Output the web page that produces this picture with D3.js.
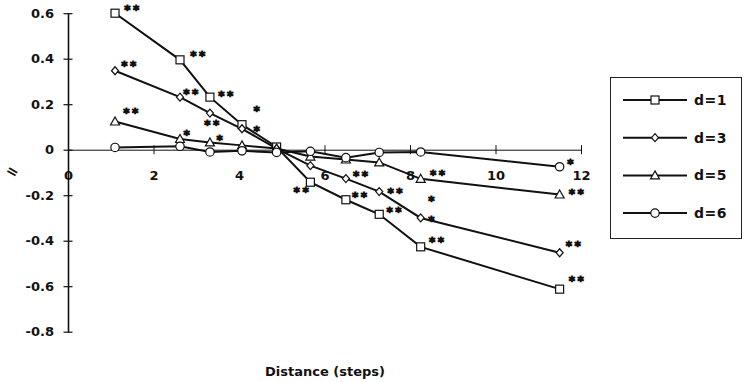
<!DOCTYPE html>
<html>
<head>
<meta charset="utf-8">
<script src="https://d3js.org/d3.v7.min.js"></script>
<style>
  body { margin: 0; background: #fff; }
  svg text { font-family: "DejaVu Sans", Arial, sans-serif; font-weight: bold; fill: #111; }
</style>
</head>
<body>
<div id="chart"></div>
<script>
// values
var distance = [1.1, 2.62, 3.32, 4.07, 4.88, 5.67, 6.5, 7.28, 8.25, 11.5]
var valuesD1 = [0.60, 0.395, 0.231, 0.11, 0.012, -0.143, -0.22, -0.284, -0.427, -0.613]
var valuesD3 = [0.347, 0.231, 0.161, 0.092, 0.005, -0.07, -0.127, -0.184, -0.30, -0.453]
var valuesD5 = [0.124, 0.047, 0.032, 0.019, 0.005, -0.03, -0.043, -0.056, -0.128, -0.197]
var valuesD6 = [0.01, 0.015, -0.01, -0.005, -0.012, -0.007, -0.035, -0.012, -0.01, -0.075]

// significance marks per point
var sigD1 = ["**", "**", "**", "*", "", "**", "**", "**", "**", "**"]
var sigD3 = ["**", "**", "**", "*", "", "", "**", "**", "*", "**"]
var sigD5 = ["**", "*", "*", "", "", "", "", "", "**", "**"]
var sigD6 = ["", "", "", "", "", "", "", "", "", "*"]

var seriesNames = ["d=1", "d=3", "d=5", "d=6"]
var xTicks = [0, 2, 4, 6, 8, 10, 12]
var yTicks = [0.6, 0.4, 0.2, 0, -0.2, -0.4, -0.6, -0.8]
var xTitle = "Distance (steps)"
var yTitle = "="

// layout: where each star sits relative to its point (pixels)
var starOffsets = {
    "d=1": [[18, -6], [19, -7], [17, -4], [16, -17], [0, 0], [-8, 7], [15, -6], [16, -5], [17, -8], [18, -11]],
    "d=3": [[15, -8], [12, -6], [3, 9], [16, -1], [0, 0], [0, 0], [16, -6], [17, -2], [12, 0], [15, -10]],
    "d=5": [[17, -11], [8, -7], [11, -5], [0, 0], [0, 0], [0, 0], [0, 0], [0, 0], [18, -7], [18, -4]],
    "d=6": [[0, 0], [0, 0], [0, 0], [0, 0], [0, 0], [0, 0], [0, 0], [0, 0], [0, 0], [12, -6]]
}
// the lone extra "*" above the d=3 point at 8.25
var extraStar = { series: "d=3", index: 8, text: "*", dx: 12, dy: -20 }

var width = 752, height = 382

var svg = d3.select("#chart").append("svg")
    .attr("width", width)
    .attr("height", height)

var x = d3.scaleLinear().domain([0, 12]).range([68, 581])
var y = d3.scaleLinear().domain([-0.8, 0.6]).range([331.7, 13.2])

// build series
var seriesValues = [valuesD1, valuesD3, valuesD5, valuesD6]
var seriesSig = [sigD1, sigD3, sigD5, sigD6]
var shapes = ["square", "diamond", "triangle", "circle"]
var series = seriesNames.map(function (name, i) {
    return {
        name: name,
        shape: shapes[i],
        points: distance.map(function (dv, j) {
            return { x: dv, y: seriesValues[i][j], sig: seriesSig[i][j], off: starOffsets[name][j] }
        })
    }
})

// axes (plain hyphen for minus, like the original)
var yAxis = d3.axisLeft(y).tickValues(yTicks).tickSizeInner(5).tickSizeOuter(0)
    .tickFormat(function (d) { return d === 0 ? "0" : d.toFixed(1) })
var gy = svg.append("g").attr("transform", "translate(" + x(0) + ",0)").call(yAxis)
gy.select(".domain").attr("stroke", "#111").attr("stroke-width", 1.6)
gy.selectAll(".tick line").attr("x1", -4.5).attr("x2", 4.5).attr("stroke", "#111").attr("stroke-width", 1.2)
gy.selectAll(".tick text").attr("x", -14).attr("font-size", 13).attr("font-family", null)

var xAxis = d3.axisBottom(x).tickValues(xTicks).tickSizeOuter(0).tickFormat(d3.format("d"))
var gx = svg.append("g").attr("transform", "translate(0," + y(0) + ")").call(xAxis)
gx.select(".domain").attr("stroke", "#111").attr("stroke-width", 1)
gx.selectAll(".tick line").attr("y1", -4.5).attr("y2", 4.5).attr("stroke", "#111").attr("stroke-width", 1)
gx.selectAll(".tick text").attr("y", 21).attr("font-size", 13).attr("font-family", null)

// axis titles
svg.append("text")
    .attr("x", 325)
    .attr("y", 376)
    .attr("text-anchor", "middle")
    .attr("font-size", 13)
    .text(xTitle)

svg.append("text")
    .attr("transform", "translate(10,176) rotate(30)")
    .attr("text-anchor", "middle")
    .attr("font-size", 15)
    .text(yTitle)

// marker drawing
function drawMarker(g, shape, cx, cy) {
    if (shape === "square") {
        g.append("rect").attr("x", cx - 4).attr("y", cy - 4).attr("width", 8).attr("height", 8)
    } else if (shape === "diamond") {
        g.append("path").attr("d", "M" + cx + "," + (cy - 4) + "L" + (cx + 3.5) + "," + cy + "L" + cx + "," + (cy + 4) + "L" + (cx - 3.5) + "," + cy + "Z")
    } else if (shape === "triangle") {
        g.append("path").attr("d", "M" + cx + "," + (cy - 4.5) + "L" + (cx + 4.5) + "," + (cy + 3.5) + "L" + (cx - 4.5) + "," + (cy + 3.5) + "Z")
    } else {
        g.append("circle").attr("cx", cx).attr("cy", cy).attr("r", 4.2)
    }
}

var line = d3.line().x(function (d) { return x(d.x) }).y(function (d) { return y(d.y) })

// lines
svg.append("g").selectAll("path")
    .data(series)
    .enter()
    .append("path")
    .attr("d", function (d) { return line(d.points) })
    .attr("fill", "none")
    .attr("stroke", "#111")
    .attr("stroke-width", 2)

// markers
series.forEach(function (s) {
    var g = svg.append("g").attr("fill", "#fff").attr("stroke", "#111").attr("stroke-width", 1.2)
    s.points.forEach(function (p) { drawMarker(g, s.shape, x(p.x), y(p.y)) })
})

// significance stars
var stars = []
series.forEach(function (s) {
    s.points.forEach(function (p) {
        if (p.sig) stars.push({ text: p.sig, px: x(p.x) + p.off[0], py: y(p.y) + p.off[1] })
    })
})
var es = series[seriesNames.indexOf(extraStar.series)].points[extraStar.index]
stars.push({ text: extraStar.text, px: x(es.x) + extraStar.dx, py: y(es.y) + extraStar.dy })

svg.append("g").selectAll("text")
    .data(stars)
    .enter()
    .append("text")
    .attr("x", function (d) { return d.px })
    .attr("y", function (d) { return d.py + 7 })
    .attr("text-anchor", "middle")
    .attr("font-size", 12)
    .attr("letter-spacing", 2.5)
    .attr("stroke", "#111")
    .attr("stroke-width", 1)
    .text(function (d) { return d.text })

// legend
var legend = svg.append("g")
legend.append("rect")
    .attr("x", 610.5).attr("y", 77.5).attr("width", 131).attr("height", 161)
    .attr("fill", "#fff").attr("stroke", "#222").attr("stroke-width", 1)

series.forEach(function (s, i) {
    var ly = 100 + i * 37.7
    legend.append("line")
        .attr("x1", 623).attr("x2", 687).attr("y1", ly).attr("y2", ly)
        .attr("stroke", "#111").attr("stroke-width", 2)
    var g = legend.append("g").attr("fill", "#fff").attr("stroke", "#111").attr("stroke-width", 1.2)
    drawMarker(g, s.shape, 655, ly)
    legend.append("text")
        .attr("x", 694).attr("y", ly + 5)
        .attr("font-size", 14)
        .attr("letter-spacing", 0.5)
        .text(s.name)
})
</script>
</body>
</html>
